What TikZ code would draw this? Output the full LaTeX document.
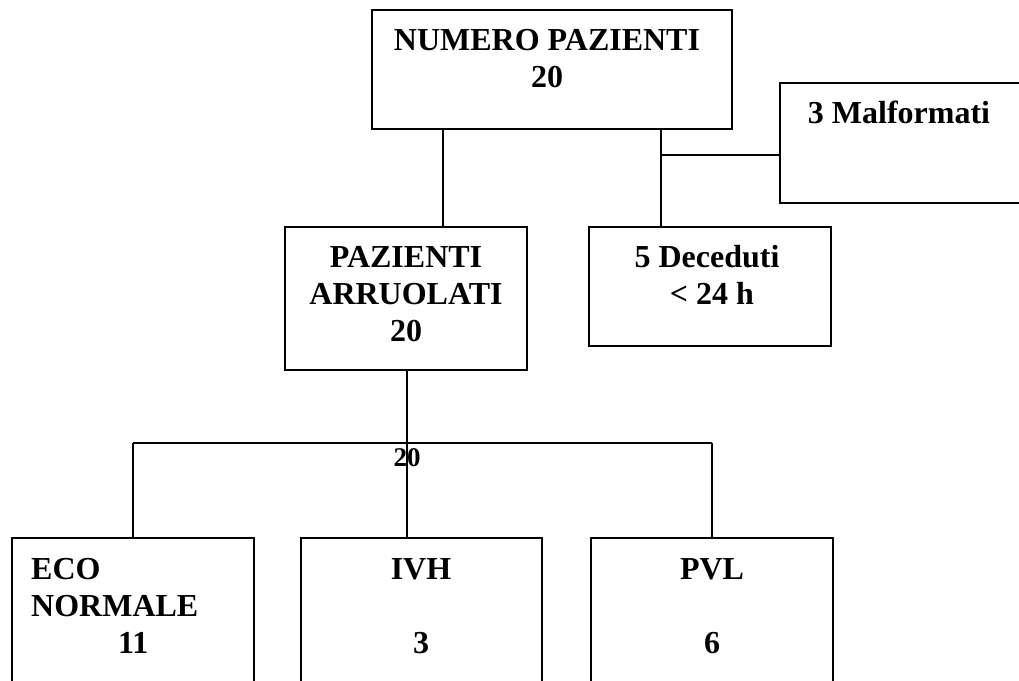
\documentclass[tikz,border=0pt]{standalone}
\usepackage{fontspec}
\setmainfont{Liberation Serif}
\usetikzlibrary{positioning}

\begin{document}
\begin{tikzpicture}[x=1pt,y=-1pt,
  casella/.style={draw,line width=1.7pt,minimum width=#1,inner sep=0pt},
  testo/.style={inner sep=0pt,font=\fontsize{32}{37}\selectfont\bfseries}]
  \useasboundingbox (0,0) rectangle (1019,680);
  \clip (0,0) rectangle (1019,680);
  \node[casella=360pt,minimum height=119pt] (NUM) at (552,69.5) {};
  \node[casella=260pt,minimum height=120pt] (MAL) at (910,143) {};
  \node[casella=242pt,minimum height=143pt] (ARR) at (406,298.5) {};
  \node[casella=242pt,minimum height=119pt] (DEC) at (710,286.5) {};
  \node[casella=242pt,minimum height=170pt] (ECO) at (133,623) {};
  \node[casella=241pt,minimum height=170pt] (IVH) at (421.5,623) {};
  \node[casella=242pt,minimum height=170pt] (PVL) at (712,623) {};
  \node[testo,align=center] (NUMt) at (547,58.5) {NUMERO PAZIENTI\\20};
  \node[testo] (MALt) at (899,112.5) {3 Malformati};
  \node[testo,align=center] (ARRt) at (406,294) {PAZIENTI\\ARRUOLATI\\20};
  \node[testo,align=center] (DECt) at (707,275) {5 Deceduti\\\hspace*{10pt}< 24 h};
  \node[testo,align=left,anchor=north west] (ECOt) at (31,558) {ECO\\NORMALE\\\hspace*{87pt}11};
  \node[testo,align=center,anchor=north] (IVHt) at (421,558) {IVH\\[37pt]3};
  \node[testo,align=center,anchor=north] (PVLt) at (712,558) {PVL\\[37pt]6};
  \coordinate (A) at (443,0);
  \coordinate (B) at (661,155);
  \coordinate (C) at (407,443);
  \draw[line width=1.7pt] (NUM.south -| A) -- (ARR.north -| A);
  \draw[line width=1.7pt] (NUM.south -| B) -- (DEC.north -| B);
  \draw[line width=1.7pt] (B) -- (B -| MAL.west);
  \draw[line width=1.7pt] (ARR.south -| C) -- (C);
  \draw[line width=1.7pt] (C -| ECO.north) -- (C -| PVL.north);
  \draw[line width=1.7pt] (C -| ECO.north) -- (ECO.north);
  \draw[line width=1.7pt] (C) -- (C |- IVH.north);
  \draw[line width=1.7pt] (C -| PVL.north) -- (PVL.north);
  \node[testo,font=\fontsize{27}{30}\selectfont\bfseries] (Cn) at (407,458) {20};
\end{tikzpicture}
\end{document}
